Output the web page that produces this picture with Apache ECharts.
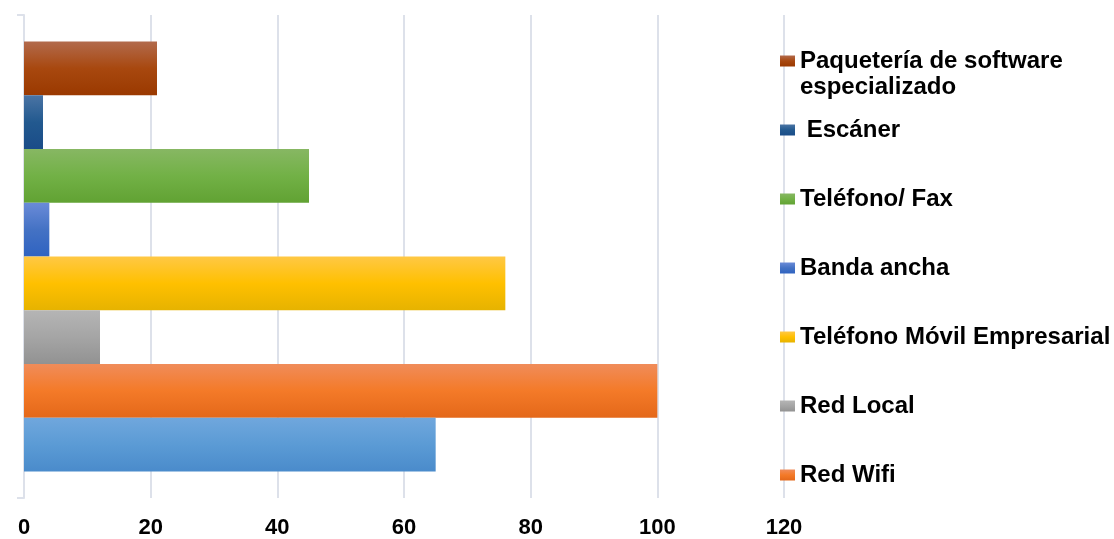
<!DOCTYPE html>
<html>
<head>
<meta charset="utf-8">
<title>Equipamiento tecnológico</title>
<script src="https://cdn.jsdelivr.net/npm/echarts@6/dist/echarts.min.js"></script>
<style>
  html, body { margin: 0; padding: 0; background: #ffffff; }
  #chart { width: 1114px; height: 539px; }
</style>
</head>
<body>
<div id="chart"></div>
<script>
// Series, listed from the top bar down to the bottom bar
const seriesNames = [
  'Paquetería de software especializado',
  ' Escáner',
  'Teléfono/ Fax',
  'Banda ancha',
  'Teléfono Móvil Empresarial',
  'Red Local',
  'Red Wifi',
  ''
];
const seriesValues = [21, 3, 45, 4, 76, 12, 100, 65];
const categories = [''];
const xTickMin = 0;
const xTickMax = 120;
const xTickStep = 20;

// Vertical gradient stops (top, middle, bottom) for each bar
const barShades = [
  ['#b26a4c', '#a8480f', '#9a3900'],
  ['#4a74a4', '#22598f', '#1a4c88'],
  ['#87b763', '#72b146', '#61a233'],
  ['#6a8bd8', '#4472c4', '#2f63c1'],
  ['#ffc845', '#ffc000', '#e6b300'],
  ['#b5b5b5', '#a5a5a5', '#929292'],
  ['#f08c5a', '#f47a28', '#e4681a'],
  ['#70a7dd', '#5b9bd5', '#4a8bcb']
];

const gridColor = '#dde1ea';
const font = '"Liberation Sans", Arial, sans-serif';

function gradient(c) {
  return new echarts.graphic.LinearGradient(0, 0, 0, 1, [
    { offset: 0, color: c[0] },
    { offset: 0.5, color: c[1] },
    { offset: 1, color: c[2] }
  ]);
}

const series = seriesNames.map((name, i) => ({
  name: name,
  type: 'bar',
  data: [seriesValues[i]],
  barGap: '0%',
  barCategoryGap: '11%',
  itemStyle: { color: gradient(barShades[i]) },
  emphasis: { disabled: true }
}));

const legendText = {
  fontFamily: font,
  fontWeight: 'bold',
  fontSize: 24,
  lineHeight: 26,
  color: '#000000'
};

const legendBase = {
  orient: 'vertical',
  left: 780,
  padding: 0,
  icon: 'rect',
  itemWidth: 15,
  itemHeight: 11,
  textStyle: legendText
};

const chart = echarts.init(document.getElementById('chart'), null, { renderer: 'canvas' });
chart.setOption({
  animation: false,
  backgroundColor: '#ffffff',
  grid: { left: 24, right: 330, top: 15, bottom: 40, containLabel: false },
  xAxis: {
    type: 'value',
    min: xTickMin,
    max: xTickMax,
    interval: xTickStep,
    axisLine: { show: false },
    axisTick: { show: false },
    splitLine: { show: true, lineStyle: { color: gridColor, width: 2 } },
    axisLabel: {
      margin: 19,
      fontFamily: font,
      fontWeight: 'bold',
      fontSize: 22,
      color: '#000000'
    }
  },
  yAxis: {
    type: 'category',
    data: categories,
    inverse: true,
    axisLine: { show: true, lineStyle: { color: gridColor, width: 2 } },
    axisTick: { show: true, length: 7, lineStyle: { color: gridColor, width: 2 } },
    axisLabel: { show: false }
  },
  legend: [
    Object.assign({}, legendBase, {
      top: 22,
      itemGap: 0,
      data: [seriesNames[0]],
      // a blank first line keeps the swatch level with the first text line
      formatter: (n) => ' \n' + n.replace('software ', 'software\n')
    }),
    Object.assign({}, legendBase, {
      top: 117,
      itemGap: 43,
      data: seriesNames.slice(1, 7)
    })
  ],
  series: series
});
</script>
</body>
</html>
